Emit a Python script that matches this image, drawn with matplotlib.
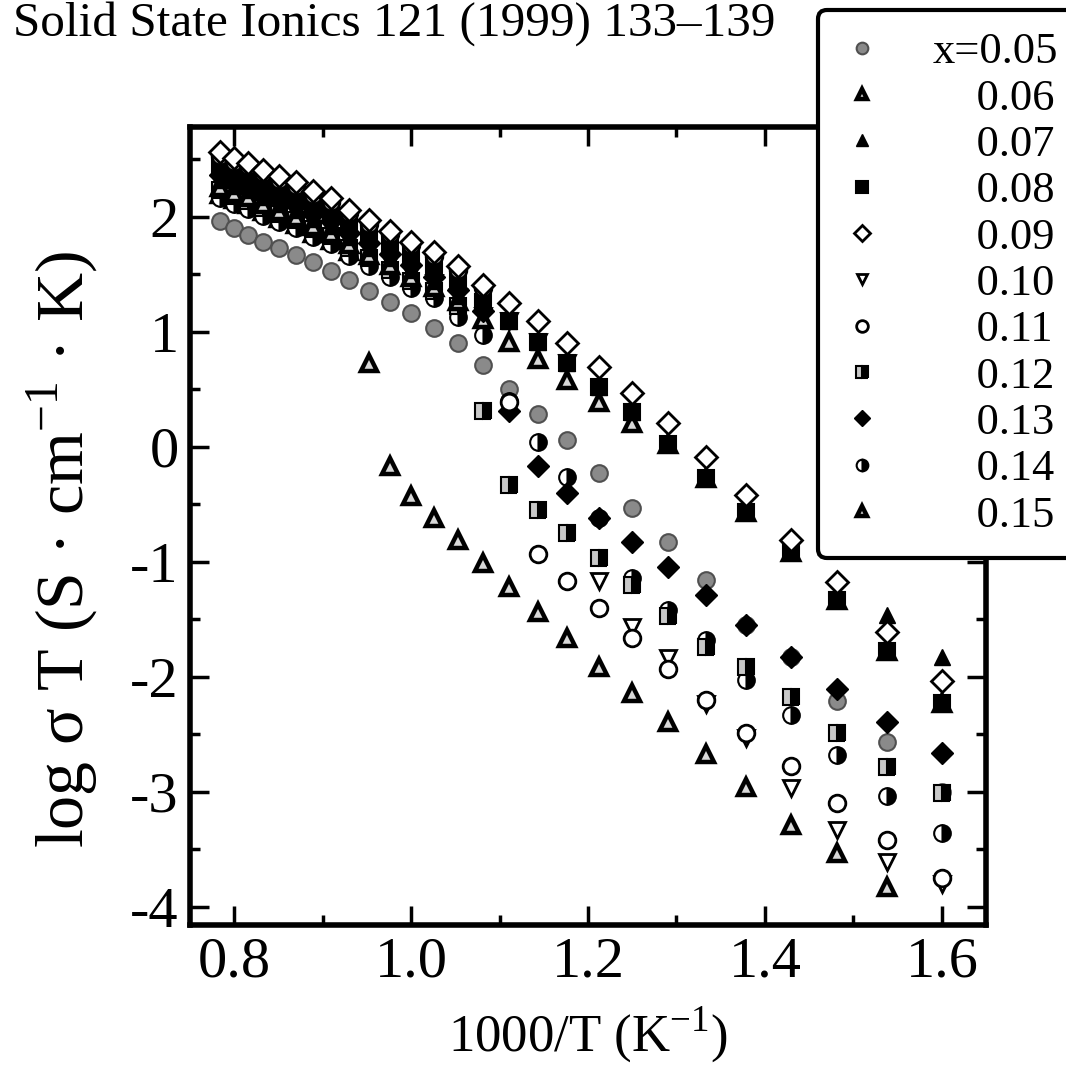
import matplotlib
matplotlib.use('Agg')
import matplotlib.pyplot as plt
import numpy as np
from matplotlib.ticker import MultipleLocator

plt.rcParams['font.family'] = ['Liberation Serif', 'DejaVu Serif']
plt.rcParams['mathtext.fontset'] = 'custom'
plt.rcParams['mathtext.rm'] = 'Liberation Serif'
plt.rcParams['axes.unicode_minus'] = False

nan = np.nan

# Data: 1000/T and log(sigma T) for each composition x
inv_T = [0.784, 0.800, 0.816, 0.833, 0.851, 0.870, 0.889, 0.909, 0.930, 0.952,
         0.976, 1.000, 1.026, 1.053, 1.081, 1.111, 1.143, 1.176, 1.212, 1.250,
         1.290, 1.333, 1.379, 1.429, 1.481, 1.538, 1.600]

x05 = [1.96, 1.90, 1.84, 1.78, 1.73, 1.67, 1.61, 1.53, 1.45, 1.35, 1.26, 1.16, 1.03, 0.90,
       0.71, 0.50, 0.28, 0.06, -0.23, -0.53, -0.83, -1.16, -1.55, -1.83, -2.21, -2.57, -3.00]
x06 = [2.26, 2.21, 2.17, 2.11, 2.05, 2.00, 1.92, 1.86, 1.76, 1.67, 1.58, 1.48, 1.39, 1.27,
       1.11, 0.91, 0.76, 0.58, 0.39, 0.21, 0.02, -0.27, -0.57, -0.92, -1.33, -1.78, -2.23]
x07 = [2.32, 2.27, 2.23, 2.17, 2.11, 2.06, 1.98, 1.92, 1.82, 1.73, 1.64, 1.54, 1.44, 1.31,
       1.26, 1.09, 0.91, 0.73, 0.52, 0.30, 0.02, -0.27, -0.57, -0.92, -1.33, -1.46, -1.83]
x08 = [2.43, 2.38, 2.34, 2.28, 2.22, 2.17, 2.09, 2.03, 1.93, 1.84, 1.75, 1.65, 1.55, 1.43,
       1.26, 1.09, 0.91, 0.73, 0.52, 0.30, 0.02, -0.27, -0.57, -0.92, -1.33, -1.78, -2.23]
x09 = [2.56, 2.51, 2.47, 2.41, 2.35, 2.30, 2.22, 2.16, 2.06, 1.97, 1.88, 1.78, 1.69, 1.57,
       1.41, 1.25, 1.09, 0.90, 0.69, 0.47, 0.21, -0.09, -0.42, -0.81, -1.18, -1.61, -2.04]
x10 = [2.29, 2.24, 2.20, 2.14, 2.08, 2.03, 1.95, 1.89, 1.79, 1.70, 1.61, 1.51, 1.42, 1.30,
       1.14, 1.09, 0.91, 0.73, -1.17, -1.57, -1.84, -2.24, -2.53, -2.97, -3.33, -3.61, -3.80]
x11 = [2.53, 2.48, 2.44, 2.38, 2.32, 2.27, 2.19, 2.13, 2.03, 1.94, 1.85, 1.75, 1.66, 1.54,
       1.38, 0.39, -0.93, -1.17, -1.40, -1.66, -1.93, -2.20, -2.49, -2.78, -3.10, -3.42, -3.75]
x12 = [2.23, 2.18, 2.14, 2.08, 2.02, 1.97, 1.89, 1.83, 1.73, 1.64, 1.54, 1.44, 1.35, 1.22,
       0.31, -0.33, -0.55, -0.75, -0.97, -1.20, -1.47, -1.74, -1.92, -2.18, -2.49, -2.79, -3.01]
x13 = [2.36, 2.31, 2.27, 2.21, 2.15, 2.10, 2.02, 1.96, 1.86, 1.77, 1.68, 1.58, 1.48, 1.36,
       1.18, 0.31, -0.17, -0.40, -0.62, -0.83, -1.05, -1.29, -1.55, -1.83, -2.11, -2.39, -2.66]
x14 = [2.16, 2.11, 2.07, 2.01, 1.95, 1.90, 1.82, 1.76, 1.66, 1.57, 1.48, 1.38, 1.29, 1.13,
       0.97, 0.40, 0.04, -0.26, -0.62, -1.14, -1.42, -1.68, -2.03, -2.33, -2.68, -3.04, -3.36]
x15 = [2.20, 2.15, 2.11, 2.05, 1.99, 1.94, 1.86, 1.80, 1.70, 0.73, -0.17, -0.43, -0.62, -0.81,
       -1.01, -1.22, -1.44, -1.66, -1.92, -2.14, -2.39, -2.67, -2.96, -3.29, -3.53, -3.83, nan]

labels = ['0.05', '0.06', '0.07', '0.08', '0.09', '0.10', '0.11', '0.12', '0.13', '0.14', '0.15']
series = dict(zip(labels, [x05, x06, x07, x08, x09, x10, x11, x12, x13, x14, x15]))

# marker styles
styles = {
    '0.05': dict(marker='o', ms=12, mfc='#8a8a8a', mec='#505050', mew=1.5),
    '0.06': dict(marker='^', ms=11, mfc='#d8d8d8', mec='black', mew=3.2),
    '0.07': dict(marker='^', ms=12, mfc='black', mec='black', mew=1),
    '0.08': dict(marker='s', ms=12, mfc='black', mec='black', mew=1.5),
    '0.09': dict(marker='D', ms=11, mfc='white', mec='black', mew=2),
    '0.10': dict(marker='v', ms=11, mfc='white', mec='black', mew=2),
    '0.11': dict(marker='o', ms=12, mfc='white', mec='black', mew=2),
    '0.12': dict(marker='s', ms=12, fillstyle='right', mfc='black', mfcalt='#c8c8c8', mec='black', mew=1.5),
    '0.13': dict(marker='D', ms=11, mfc='black', mec='black', mew=1),
    '0.14': dict(marker='o', ms=12, fillstyle='right', mfc='black', mfcalt='white', mec='black', mew=1.5),
    '0.15': dict(marker='^', ms=11, mfc='#d8d8d8', mec='black', mew=3.2),
}

draw_order = ['0.05', '0.15', '0.14', '0.12', '0.10', '0.06', '0.07', '0.08', '0.13', '0.11', '0.09']

fig = plt.figure(figsize=(10.66, 10.72), dpi=100)
ax = fig.add_axes([0.1782, 0.1371, 0.7468, 0.7444])

handles = {}
for lab in draw_order:
    ln, = ax.plot(inv_T, series[lab], linestyle='none', **styles[lab])
    handles[lab] = ln

ax.set_xlim(0.75, 1.65)
ax.set_ylim(-4.16, 2.78)
ax.xaxis.set_minor_locator(MultipleLocator(0.1))
ax.yaxis.set_major_locator(MultipleLocator(1))
ax.yaxis.set_minor_locator(MultipleLocator(0.5))
ax.set_xticks([0.8, 1.0, 1.2, 1.4, 1.6])
ax.set_xticklabels(['0.8', '1.0', '1.2', '1.4', '1.6'])

ax.tick_params(which='both', direction='in', top=True, right=True, width=2.5, labelsize=42)
ax.tick_params(which='major', length=14, pad=8)
ax.tick_params(which='minor', length=7)
for sp in ax.spines.values():
    sp.set_linewidth(4)

ax.set_xlabel('1000/T (K$^{\\mathregular{-1}}$)', fontsize=38)
ax.set_ylabel('log σ T (S · cm$^{\\mathregular{-1}}$ · K)', fontsize=49)
ax.xaxis.set_label_coords(0.5, -0.10)
ax.yaxis.set_label_coords(-0.11, 0.47)

fig.text(0.012, 0.999, 'Solid State Ionics 121 (1999) 133\u2013139', fontsize=35.5,
         ha='left', va='top')

leg_labels = ['x=0.05'] + ['\u2007\u2007' + l for l in labels[1:]]
leg = fig.legend([handles[l] for l in labels], leg_labels,
                 loc='upper left', bbox_to_anchor=(818 / 1066, 1 - 10 / 1072),
                 fontsize=32, markerscale=0.7, handlelength=1.0, handletextpad=1.07,
                 borderpad=0.5, borderaxespad=0, labelspacing=0.14, fancybox=True,
                 framealpha=1, edgecolor='black')
leg.get_frame().set_linewidth(3)

fig.savefig('out.png', dpi=100)
